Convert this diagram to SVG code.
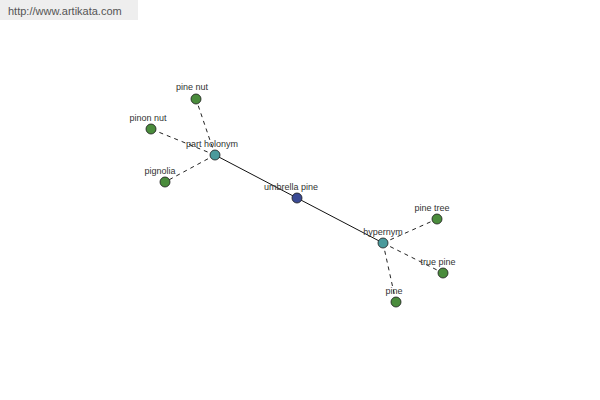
<svg xmlns="http://www.w3.org/2000/svg" width="600" height="400" viewBox="0 0 600 400">
<style>
.lbl{font-family:"Liberation Sans",Arial,sans-serif;font-size:9px;fill:#333;text-anchor:middle}
.n{stroke:#1a1a1a;stroke-width:0.8}
.g{fill:#4a8c3c}
.t{fill:#4a9a9c}
.b{fill:#3a4a94}
.d{stroke:#222;stroke-width:1;stroke-dasharray:4,4;fill:none}
.s{stroke:#111;stroke-width:1;fill:none}
</style>
<rect x="0" y="0" width="600" height="400" fill="#fff"/>
<rect x="0" y="0" width="138" height="20" fill="#eeeeee"/>
<text x="8" y="15" font-family="Liberation Sans,Arial,sans-serif" font-size="11" fill="#555">http://www.artikata.com</text>
<g id="connectors">
<line class="s" x1="297" y1="198" x2="215" y2="155"/>
<line class="s" x1="297" y1="198" x2="383" y2="243"/>
<line class="d" x1="215" y1="155" x2="196" y2="99"/>
<line class="d" x1="215" y1="155" x2="151" y2="129"/>
<line class="d" x1="215" y1="155" x2="165" y2="182"/>
<line class="d" x1="383" y1="243" x2="437" y2="219"/>
<line class="d" x1="383" y1="243" x2="443" y2="273"/>
<line class="d" x1="383" y1="243" x2="396" y2="302"/>
</g>
<g id="umbrella-pine"><circle class="n b" cx="297" cy="198" r="5"/><text class="lbl" x="291" y="190">umbrella pine</text></g>
<g id="part-holonym"><circle class="n t" cx="215" cy="155" r="5"/><text class="lbl" x="212" y="147">part holonym</text></g>
<g id="pine-nut"><circle class="n g" cx="196" cy="99" r="5"/><text class="lbl" x="192" y="90">pine nut</text></g>
<g id="pinon-nut"><circle class="n g" cx="151" cy="129" r="5"/><text class="lbl" x="148" y="121">pinon nut</text></g>
<g id="pignolia"><circle class="n g" cx="165" cy="182" r="5"/><text class="lbl" x="160" y="174">pignolia</text></g>
<g id="hypernym"><circle class="n t" cx="383" cy="243" r="5"/><text class="lbl" x="383" y="235">hypernym</text></g>
<g id="pine-tree"><circle class="n g" cx="437" cy="219" r="5"/><text class="lbl" x="432" y="211">pine tree</text></g>
<g id="true-pine"><circle class="n g" cx="443" cy="273" r="5"/><text class="lbl" x="438" y="265">true pine</text></g>
<g id="pine"><circle class="n g" cx="396" cy="302" r="5"/><text class="lbl" x="394" y="294">pine</text></g>
</svg>
